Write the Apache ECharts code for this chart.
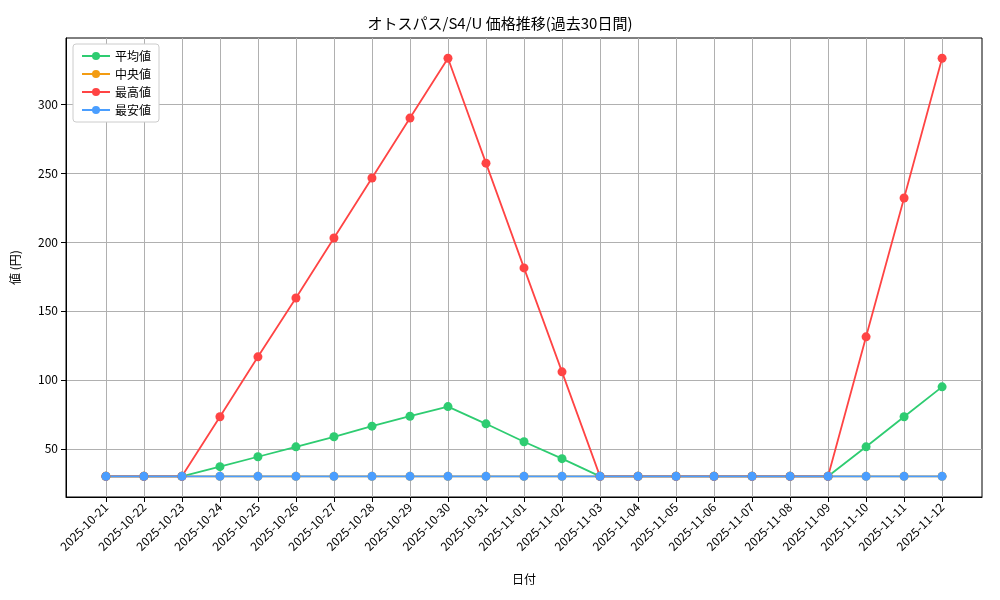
<!DOCTYPE html><html><head><meta charset="utf-8"><script src="https://cdn.jsdelivr.net/npm/echarts@6/dist/echarts.min.js"></script></head><body style="margin:0"><div id="c" style="width:1000px;height:600px"></div><script>
const dates=["2025-10-21","2025-10-22","2025-10-23","2025-10-24","2025-10-25","2025-10-26","2025-10-27","2025-10-28","2025-10-29","2025-10-30","2025-10-31","2025-11-01","2025-11-02","2025-11-03","2025-11-04","2025-11-05","2025-11-06","2025-11-07","2025-11-08","2025-11-09","2025-11-10","2025-11-11","2025-11-12"];
const avgV=[30,30,30,37,44.2,51.4,58.7,66.4,73.6,80.6,68.1,55.1,42.8,30,30,30,30,30,30,30,51.4,73.2,94.9];
const medV=[30,30,30,30,30,30,30,30,30,30,30,30,30,30,30,30,30,30,30,30,30,30,30];
const maxV=[30,30,30,73.2,116.7,159.4,202.9,246.4,289.9,333.3,257.2,181.2,105.8,30,30,30,30,30,30,30,131.2,231.9,333.3];
const minV=[30,30,30,30,30,30,30,30,30,30,30,30,30,30,30,30,30,30,30,30,30,30,30];
const yTicks=[50,100,150,200,250,300];
const F='"Noto Sans CJK JP"';
const idx=dates.map((d,i)=>i);
const mk=(name,vals,color)=>({name,type:'line',data:vals.map((v,i)=>[i,v]),symbol:'circle',symbolSize:9,showSymbol:true,itemStyle:{color},lineStyle:{color,width:1.8}});
const ch=echarts.init(document.getElementById('c'));
ch.setOption({animation:false,textStyle:{fontFamily:F},
title:{text:'オトスパス/S4/U 価格推移(過去30日間)',left:'center',top:11,textStyle:{fontFamily:F,fontSize:15,fontWeight:'normal',color:'#000'}},
legend:{left:73,top:44,orient:'vertical',itemGap:6,itemWidth:28,itemHeight:10,borderColor:'#ccc',borderWidth:1,borderRadius:3,padding:[6,8],backgroundColor:'#fff',textStyle:{fontFamily:F,fontSize:12,color:'#000'}},
grid:{left:66,right:18,top:38,bottom:103,show:true,borderColor:'#000',borderWidth:1},
xAxis:{type:'value',min:-1.05,max:23.05,name:'日付',nameLocation:'middle',nameGap:76,nameTextStyle:{color:'#000',fontSize:12},
axisLine:{onZero:false,lineStyle:{color:'#000'}},axisTick:{customValues:idx,lineStyle:{color:'#000'}},
axisLabel:{customValues:idx,rotate:45,color:'#000',fontSize:12,formatter:v=>dates[Math.round(v)]},
splitLine:{show:true,lineStyle:{color:'#b0b0b0'}}},
yAxis:{type:'value',min:15,max:348,name:'値 (円)',nameLocation:'middle',nameGap:45,nameTextStyle:{color:'#000',fontSize:12},
axisLine:{show:true,onZero:false,lineStyle:{color:'#000'}},axisTick:{show:true,customValues:yTicks,lineStyle:{color:'#000'}},
axisLabel:{customValues:yTicks,color:'#000',fontSize:12},splitLine:{show:true,lineStyle:{color:'#b0b0b0'}}},
series:[mk('平均値',avgV,'#2ecc71'),mk('中央値',medV,'#f39c12'),mk('最高値',maxV,'#ff4444'),mk('最安値',minV,'#4a9eff')]});
</script></body></html>
